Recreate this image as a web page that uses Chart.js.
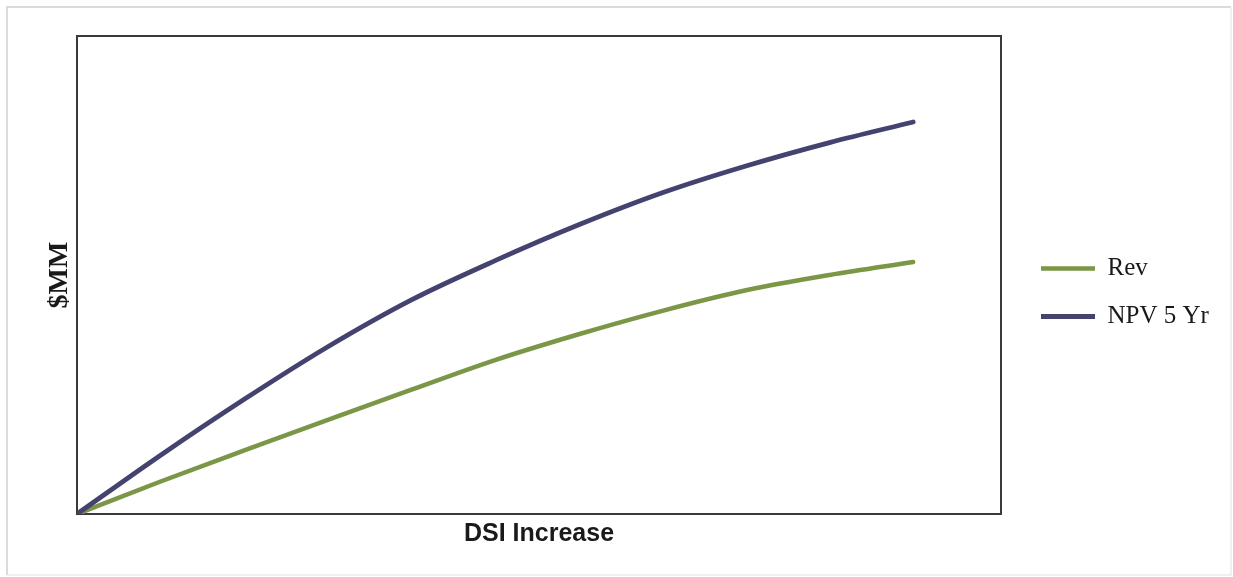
<!DOCTYPE html>
<html>
<head>
<meta charset="utf-8">
<title>DSI Increase vs $MM</title>
<script src="https://cdn.jsdelivr.net/npm/chart.js@4.4.1/dist/chart.umd.min.js"></script>
<style>
  html, body { margin: 0; padding: 0; background: #ffffff; }
  #wrap { width: 1233px; height: 577px; position: relative; }
</style>
</head>
<body>
<div id="wrap"><canvas id="chart" width="1233" height="577"></canvas></div>
<script>
// DSI increase steps (x) and the two value series ($MM, relative scale)
const dsiSteps = [0, 1, 2, 3, 4, 5, 6, 7, 8, 9, 10];
const revenue  = [0, 6.8, 13.3, 19.7, 26.0, 32.2, 37.6, 42.5, 46.8, 50.0, 52.7];
const npv5yr   = [0, 12.3, 24.0, 35.0, 44.8, 53.0, 60.5, 67.2, 72.8, 77.7, 82.0];
const seriesNames = ['Rev', 'NPV 5 Yr'];

const toPoints = (xs, ys) => xs.map((x, i) => ({ x: x, y: ys[i] }));

// Plot frame and outer border
const framePlugin = {
  id: 'frames',
  beforeDraw(chart) {
    const ctx = chart.ctx;
    ctx.save();
    ctx.fillStyle = '#ffffff';
    ctx.fillRect(0, 0, chart.width, chart.height);
    ctx.lineWidth = 1.5;
    ctx.strokeStyle = '#cfcfcf';
    ctx.beginPath();
    ctx.moveTo(7, 575); ctx.lineTo(7, 7); ctx.lineTo(1231, 7);
    ctx.stroke();
    ctx.strokeStyle = '#ececec';
    ctx.beginPath();
    ctx.moveTo(1231, 7); ctx.lineTo(1231, 575); ctx.lineTo(7, 575);
    ctx.stroke();
    ctx.restore();
  },
  beforeDatasetsDraw(chart) {
    const { ctx, chartArea: a } = chart;
    ctx.save();
    ctx.lineWidth = 2;
    ctx.strokeStyle = '#3a3a3a';
    ctx.strokeRect(a.left, a.top, a.right - a.left, a.bottom - a.top);
    ctx.restore();
  }
};

new Chart(document.getElementById('chart'), {
  type: 'line',
  data: {
    datasets: [
      {
        label: seriesNames[0],
        data: toPoints(dsiSteps, revenue),
        borderColor: '#7b9646',
        backgroundColor: '#7b9646',
        borderWidth: 4.5,
        borderCapStyle: 'round',
        pointRadius: 0,
        cubicInterpolationMode: 'monotone',
        order: 1
      },
      {
        label: seriesNames[1],
        data: toPoints(dsiSteps, npv5yr),
        borderColor: '#44426f',
        backgroundColor: '#44426f',
        borderWidth: 4.8,
        borderCapStyle: 'round',
        pointRadius: 0,
        cubicInterpolationMode: 'monotone',
        order: 0
      }
    ]
  },
  options: {
    responsive: false,
    animation: false,
    layout: { padding: { left: 0, right: 16, top: 36, bottom: 28 } },
    plugins: {
      tooltip: { enabled: false },
      legend: {
        position: 'right',
        maxWidth: 199,
        labels: {
          usePointStyle: true,
          pointStyle: 'line',
          pointStyleWidth: 54,
          padding: 23,
          color: '#1a1a1a',
          font: { family: '"Liberation Serif", "Times New Roman", serif', size: 25 },
          sort: (a, b) => a.datasetIndex - b.datasetIndex
        }
      }
    },
    scales: {
      x: {
        type: 'linear',
        min: 0,
        max: 11.05,
        grid: { display: false, drawTicks: false },
        border: { display: false },
        ticks: { display: false },
        title: {
          display: true,
          text: 'DSI Increase',
          color: '#1a1a1a',
          font: { family: '"Liberation Sans", Arial, sans-serif', size: 25, weight: 'bold' },
          padding: { top: 5, bottom: 0 }
        }
      },
      y: {
        min: 0,
        max: 100,
        grid: { display: false, drawTicks: false },
        border: { display: false },
        ticks: { display: false },
        title: {
          display: true,
          text: '$MM',
          color: '#1a1a1a',
          font: { family: '"Liberation Serif", "Times New Roman", serif', size: 28, weight: 'bold' },
          padding: { top: 43.4, bottom: 0 }
        }
      },
      gap: {
        type: 'linear',
        position: 'right',
        display: true,
        grid: { display: false, drawTicks: false },
        border: { display: false },
        ticks: { display: false },
        afterFit(scale) { scale.width = 17; }
      }
    }
  },
  plugins: [framePlugin]
});
</script>
</body>
</html>
